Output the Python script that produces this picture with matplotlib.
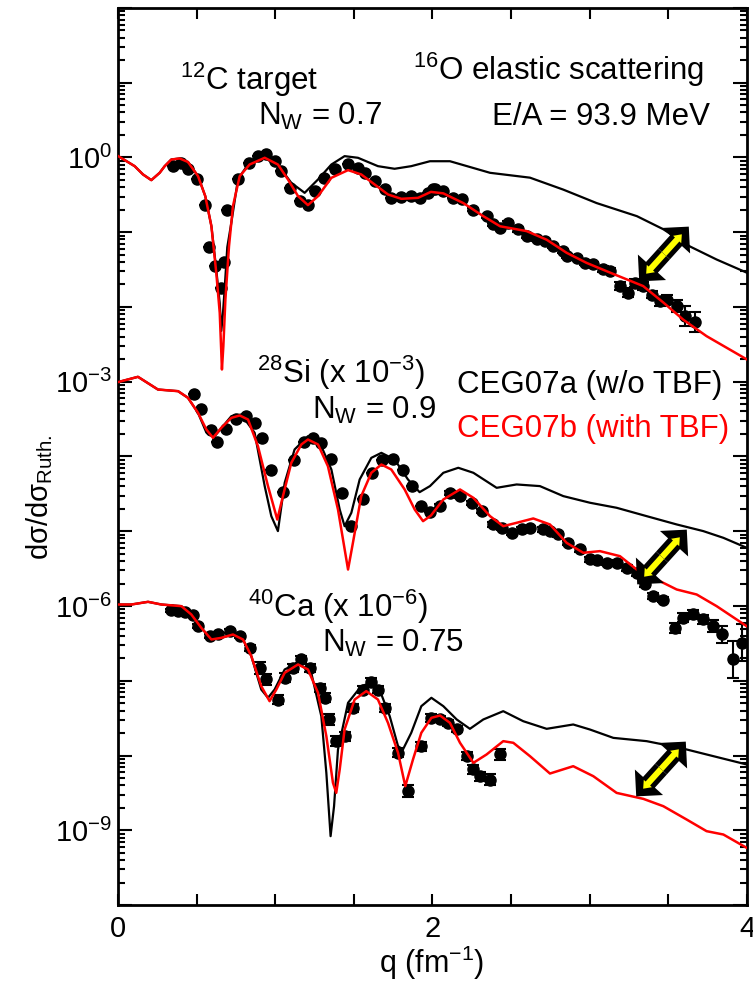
import numpy as np
import matplotlib
matplotlib.use("Agg")
import matplotlib.pyplot as plt
from matplotlib.ticker import FixedLocator, MultipleLocator, LogLocator, NullFormatter, FuncFormatter
from matplotlib.patches import FancyArrow

plt.rcParams['font.family'] = ['Liberation Sans', 'DejaVu Sans']
plt.rcParams['mathtext.fontset'] = 'custom'
plt.rcParams['mathtext.rm'] = 'Liberation Sans'
plt.rcParams['mathtext.it'] = 'Liberation Sans:italic'
plt.rcParams['mathtext.bf'] = 'Liberation Sans:bold'

# ---- data (log10 of dsigma/dsigma_Ruth, Si scaled 1e-3, Ca scaled 1e-6) ----
# 12C, CEG07a (w/o TBF)
c_q_a = [0.0, 0.106, 0.159, 0.212, 0.265, 0.297, 0.339, 0.392, 0.445, 0.509,
         0.555, 0.594, 0.625, 0.647, 0.657, 0.667, 0.678, 0.695, 0.721, 0.763,
         0.827, 0.933, 1.039, 1.102, 1.187, 1.272, 1.357, 1.441, 1.526, 1.653,
         1.759, 1.865, 1.984, 2.111, 2.366, 2.62, 2.832, 3.044, 3.30, 3.468,
         3.637, 3.807, 3.998]
c_lg_a = [0.02, -0.116, -0.227, -0.303, -0.205, -0.116, -0.027, -0.013, -0.06, -0.25,
          -0.517, -0.918, -1.50, -1.95, -2.32, -2.1, -1.766, -1.2, -0.87, -0.29,
          -0.094, 0.0, -0.16, -0.339, -0.473, -0.294, -0.094, 0.018, -0.004, -0.116,
          -0.151, -0.116, -0.05, -0.05, -0.205, -0.27, -0.43, -0.61, -0.785, -0.96,
          -1.19, -1.365, -1.54]
# 12C, CEG07b (with TBF)
c_q_b = [0.0, 0.106, 0.159, 0.212, 0.265, 0.297, 0.339, 0.392, 0.445, 0.509,
         0.555, 0.594, 0.625, 0.647, 0.657, 0.661, 0.670, 0.683, 0.706, 0.731,
         0.774, 0.837, 0.933, 1.017, 1.081, 1.145, 1.208, 1.272, 1.357, 1.463,
         1.547, 1.632, 1.717, 1.802, 1.908, 1.99, 2.069, 2.196, 2.323, 2.43,
         2.599, 2.726, 2.853, 2.98, 3.129, 3.34, 3.468, 3.595, 3.743, 3.998]
c_lg_b = [0.02, -0.116, -0.227, -0.303, -0.205, -0.116, -0.027, -0.013, -0.06, -0.25,
          -0.517, -0.918, -1.543, -2.078, -2.613, -2.836, -2.524, -1.90, -1.186, -0.651,
          -0.25, -0.094, -0.004, -0.094, -0.294, -0.517, -0.637, -0.517, -0.272, -0.169,
          -0.227, -0.361, -0.495, -0.553, -0.540, -0.46, -0.48, -0.61, -0.785, -0.92,
          -0.985, -1.10, -1.275, -1.41, -1.54, -1.72, -1.94, -2.17, -2.39, -2.70]
# 12C, data
c_q_d = [0.350, 0.403, 0.445, 0.502, 0.555, 0.579, 0.615, 0.657, 0.674, 0.693,
         0.763, 0.831, 0.890, 0.943, 0.996, 1.039, 1.092, 1.155, 1.208, 1.251,
         1.308, 1.378, 1.463, 1.526, 1.569, 1.632, 1.696, 1.738, 1.802, 1.865,
         1.918, 1.971, 2.014, 2.005, 2.069, 2.132, 2.185, 2.260, 2.344, 2.387,
         2.429, 2.482, 2.546, 2.599, 2.662, 2.715, 2.768, 2.832, 2.853, 2.917,
         2.970, 3.023, 3.086, 3.129, 3.192, 3.245, 3.288, 3.341, 3.394, 3.447,
         3.489, 3.553, 3.606, 3.669]
c_lg_d = [-0.116, -0.080, -0.160, -0.294, -0.637, -1.195, -1.445, -1.743, -1.400, -0.696,
          -0.285, -0.071, 0.018, 0.040, -0.049, -0.183, -0.406, -0.584, -0.629, -0.450,
          -0.272, -0.160, -0.093, -0.138, -0.205, -0.317, -0.428, -0.540, -0.526, -0.517,
          -0.540, -0.473, -0.428, -0.428, -0.450, -0.540, -0.562, -0.696, -0.785, -0.896,
          -0.941, -0.874, -0.963, -1.052, -1.088, -1.119, -1.186, -1.253, -1.320, -1.342,
          -1.409, -1.431, -1.498, -1.520, -1.721, -1.810, -1.677, -1.721, -1.833, -1.922,
          -1.900, -1.989, -2.123, -2.203]
c_err = [0.0] * 33 + [0.0, 0.0, 0.0, 0.0, 0.02, 0.02, 0.02, 0.02, 0.02, 0.03,
                      0.03, 0.03, 0.03, 0.03, 0.03, 0.03, 0.03, 0.03, 0.03, 0.04,
                      0.04, 0.05, 0.06, 0.05, 0.05, 0.05, 0.06, 0.06, 0.08, 0.13, 0.13]

# 28Si (x 1e-3)
si_q_a = [0, 0.127, 0.254, 0.382, 0.445, 0.509, 0.562, 0.615, 0.721, 0.784,
          0.869, 0.933, 0.975, 1.017, 1.06, 1.123, 1.208, 1.293, 1.357, 1.41,
          1.441, 1.484, 1.537, 1.611, 1.675, 1.759, 1.844, 1.918, 1.984, 2.069,
          2.164, 2.26, 2.408, 2.535, 2.683, 2.832, 3.002, 3.171, 3.362, 3.553,
          3.722, 3.85, 3.998]
si_lg_a = [-3.005, -2.934, -3.104, -3.126, -3.215, -3.416, -3.68, -3.728, -3.46, -3.438,
           -3.683, -4.397, -4.798, -4.998, -4.352, -3.906, -3.728, -3.862, -4.174, -4.709,
           -4.932, -4.753, -4.307, -4.018, -3.951, -4.04, -4.307, -4.477, -4.396, -4.218,
           -4.151, -4.218, -4.419, -4.374, -4.396, -4.53, -4.619, -4.686, -4.798, -4.909,
           -4.998, -5.088, -5.221]
si_q_b = [0, 0.127, 0.254, 0.382, 0.445, 0.509, 0.562, 0.604, 0.657, 0.721,
          0.774, 0.827, 0.890, 0.954, 1.013, 1.049, 1.102, 1.166, 1.208, 1.272,
          1.335, 1.399, 1.463, 1.494, 1.547, 1.611, 1.675, 1.738, 1.823, 1.887,
          1.940, 1.99, 2.069, 2.175, 2.26, 2.366, 2.45, 2.535, 2.641, 2.747,
          2.853, 2.959, 3.065, 3.192, 3.298, 3.425, 3.553, 3.68, 3.807, 3.998]
si_lg_b = [-3.005, -2.934, -3.104, -3.126, -3.215, -3.416, -3.639, -3.75, -3.616, -3.483,
           -3.451, -3.505, -3.862, -4.397, -4.843, -4.53, -4.085, -3.839, -3.773, -3.839,
           -4.13, -4.709, -5.512, -5.155, -4.53, -4.218, -4.107, -4.174, -4.441, -4.709,
           -4.865, -4.79, -4.575, -4.441, -4.553, -4.798, -4.932, -4.887, -4.829, -4.909,
           -5.155, -5.288, -5.266, -5.333, -5.511, -5.645, -5.779, -5.846, -6.002, -6.27]
si_q_d = [0.483, 0.530, 0.594, 0.632, 0.689, 0.753, 0.816, 0.869, 0.916, 0.975,
          1.049, 1.119, 1.183, 1.240, 1.293, 1.357, 1.424, 1.480, 1.558, 1.615,
          1.679, 1.749, 1.812, 1.870, 1.929, 1.982,
          2.048, 2.111, 2.175, 2.249, 2.313, 2.387, 2.440, 2.503, 2.567, 2.620,
          2.705, 2.747, 2.800, 2.864, 2.938, 3.001, 3.044, 3.107, 3.171, 3.235,
          3.298, 3.351, 3.404, 3.468, 3.542, 3.595, 3.659, 3.722, 3.786, 3.839,
          3.913, 3.966]
si_lg_d = [-3.170, -3.362, -3.639, -3.804, -3.630, -3.505, -3.460, -3.550, -3.750, -4.174,
           -4.477, -4.049, -3.808, -3.750, -3.817, -4.040, -4.486, -4.932, -4.575, -4.227,
           -4.049, -4.031, -4.174, -4.388, -4.664, -4.745,
           -4.664, -4.486, -4.530, -4.619, -4.731, -4.909, -4.954, -5.021, -4.976, -4.954,
           -4.976, -4.998, -5.043, -5.154, -5.244, -5.377, -5.387, -5.422, -5.422, -5.489,
           -5.556, -5.712, -5.868, -5.913, -6.292, -6.158, -6.113, -6.180, -6.269, -6.381,
           -6.715, -6.492]
si_err = [0.0] * 26 + [0.03] * 18 + [0.04] * 6 + [0.07, 0.06, 0.06, 0.06, 0.08, 0.12, 0.25, 0.25]

# 40Ca (x 1e-6)
ca_q_a = [0, 0.085, 0.191, 0.276, 0.403, 0.466, 0.53, 0.594, 0.657, 0.731,
          0.795, 0.848, 0.911, 0.954, 0.996, 1.06, 1.145, 1.229, 1.293, 1.325,
          1.352, 1.374, 1.399, 1.463, 1.547, 1.611, 1.675, 1.728, 1.781, 1.812,
          1.865, 1.929, 1.993, 2.069, 2.154, 2.238, 2.323, 2.45, 2.577, 2.726,
          2.895, 3.001, 3.15, 3.362, 3.574, 3.743, 3.998]
ca_lg_a = [-5.98, -5.98, -5.944, -5.98, -6.002, -6.113, -6.292, -6.448, -6.426, -6.381,
           -6.448, -6.671, -7.117, -7.228, -7.117, -6.849, -6.76, -6.894, -7.474, -8.232,
           -9.079, -8.678, -7.92, -7.295, -7.072, -7.028, -7.184, -7.474, -7.875, -7.92,
           -7.696, -7.34, -7.228, -7.34, -7.518, -7.643, -7.518, -7.407, -7.541, -7.643,
           -7.585, -7.652, -7.764, -7.808, -7.897, -7.986, -8.12]
ca_q_b = [0, 0.085, 0.191, 0.276, 0.403, 0.466, 0.53, 0.594, 0.657, 0.731,
          0.795, 0.848, 0.911, 0.964, 1.007, 1.06, 1.145, 1.208, 1.272, 1.325,
          1.367, 1.388, 1.41, 1.441, 1.505, 1.579, 1.653, 1.717, 1.781, 1.827,
          1.876, 1.929, 1.993, 2.048, 2.111, 2.175, 2.26, 2.344, 2.45, 2.514,
          2.62, 2.747, 2.895, 3.023, 3.171, 3.341, 3.468, 3.616, 3.743, 3.85, 3.998]
ca_lg_b = [-5.98, -5.98, -5.944, -5.98, -6.002, -6.113, -6.292, -6.448, -6.426, -6.381,
           -6.448, -6.671, -7.072, -7.273, -7.117, -6.894, -6.782, -6.849, -7.161, -7.741,
           -8.365, -8.499, -8.187, -7.652, -7.251, -7.139, -7.251, -7.563, -7.964, -8.41,
           -8.053, -7.696, -7.496, -7.465, -7.563, -7.830, -8.098, -7.986, -7.808, -7.83,
           -8.009, -8.241, -8.143, -8.277, -8.5, -8.58, -8.678, -8.856, -9.012, -9.057, -9.235]
ca_q_d = [0.339, 0.382, 0.424, 0.477, 0.509, 0.583, 0.636, 0.710, 0.774, 0.837,
          0.901, 0.943, 1.017, 1.060, 1.113, 1.162, 1.219, 1.282, 1.319, 1.340,
          1.388, 1.441, 1.494, 1.558, 1.611, 1.653, 1.696, 1.781, 1.844, 1.929,
          1.993, 2.048, 2.101, 2.154, 2.217, 2.260, 2.302, 2.366, 2.429]
ca_lg_d = [-6.055, -6.069, -6.082, -6.127, -6.270, -6.403, -6.381, -6.336, -6.403, -6.559,
           -6.827, -6.983, -7.251, -6.961, -6.827, -6.715, -6.827, -7.095, -7.228, -7.518,
           -7.808, -7.741, -7.362, -7.117, -7.019, -7.117, -7.362, -7.964, -8.477, -7.875,
           -7.496, -7.518, -7.563, -7.643, -8.009, -8.187, -8.276, -8.321, -7.986]
ca_err = [0.02, 0.02, 0.02, 0.02, 0.03, 0.03, 0.03, 0.03, 0.03, 0.04,
          0.08, 0.08, 0.06, 0.06, 0.05, 0.05, 0.05, 0.05, 0.06, 0.07,
          0.07, 0.06, 0.05, 0.05, 0.05, 0.05, 0.05, 0.06, 0.08, 0.06,
          0.05, 0.04, 0.04, 0.04, 0.05, 0.06, 0.06, 0.07, 0.07]

fig = plt.figure(figsize=(7.53, 9.85), dpi=100)
ax = fig.add_axes([0.1567, 0.0812, 0.8353, 0.9107])

sets = [(c_q_a, c_lg_a, c_q_b, c_lg_b, c_q_d, c_lg_d, c_err),
        (si_q_a, si_lg_a, si_q_b, si_lg_b, si_q_d, si_lg_d, si_err),
        (ca_q_a, ca_lg_a, ca_q_b, ca_lg_b, ca_q_d, ca_lg_d, ca_err)]
for qa, la, qb, lb, qd, ld, er in sets:
    ax.plot(qa, 10 ** np.array(la), color='black', lw=1.6, zorder=3)
    ax.plot(qb, 10 ** np.array(lb), color='red', lw=1.8, zorder=4)
    y = 10 ** np.array(ld)
    e = np.array(er)
    yerr = [y - y * 10 ** (-e), y * 10 ** e - y]
    ax.errorbar(qd, y, yerr=yerr, fmt='o', ms=8, color='black', ecolor='black',
                elinewidth=1.5, capsize=4.5, capthick=1.5, zorder=2)

ax.set_yscale('log')
ax.set_xlim(0, 4)
ax.set_ylim(1e-10, 1e2)

ax.xaxis.set_major_locator(FixedLocator([0, 2, 4]))
ax.xaxis.set_minor_locator(MultipleLocator(0.5))
ax.yaxis.set_major_locator(FixedLocator([10.0 ** k for k in range(-10, 3)]))
ax.yaxis.set_minor_locator(LogLocator(base=10, subs=np.arange(2, 10), numticks=30))
ax.yaxis.set_minor_formatter(NullFormatter())


def ylab(v, pos):
    k = int(round(np.log10(v)))
    if k in (0, -3, -6, -9):
        return '$10^{%d}$' % k
    return ''


ax.yaxis.set_major_formatter(FuncFormatter(ylab))
ax.xaxis.set_major_formatter(FuncFormatter(lambda v, p: '%d' % v))
ax.tick_params(which='both', direction='in', top=True, right=True, width=1.5, labelsize=21)
ax.tick_params(axis='x', which='both', length=8, pad=7)
ax.tick_params(axis='y', which='major', length=10, pad=4)
ax.tick_params(axis='y', which='minor', length=5)
for s in ax.spines.values():
    s.set_linewidth(2)

fig.text(40 / 753, 1 - 497 / 985, r'dσ/dσ$_{\mathrm{Ruth.}}$', rotation=90,
         ha='center', va='center', fontsize=21)
fig.text(432 / 753, 1 - 963 / 985, r'q (fm$^{-1}$)', ha='center', va='center', fontsize=22)

fs = 22.5
fig.text(0.239, 0.9086, r'$^{12}$C target', fontsize=fs, va='baseline')
fig.text(0.3426, 0.8731, r'N$_{\mathrm{W}}$ = 0.7', fontsize=fs, va='baseline')
fig.text(0.5485, 0.9188, r'$^{16}$O elastic scattering', fontsize=fs, va='baseline')
fig.text(0.6534, 0.8731, 'E/A = 93.9 MeV', fontsize=fs, va='baseline')
fig.text(0.3413, 0.6112, r'$^{28}$Si (x 10$^{-3}$)', fontsize=fs, va='baseline')
fig.text(0.4143, 0.5746, r'N$_{\mathrm{W}}$ = 0.9', fontsize=fs, va='baseline')
fig.text(0.6069, 0.6010, 'CEG07a (w/o TBF)', fontsize=fs, va='baseline', color='black')
fig.text(0.6069, 0.5563, 'CEG07b (with TBF)', fontsize=fs, va='baseline', color='red')
fig.text(0.3293, 0.3736, r'$^{40}$Ca (x 10$^{-6}$)', fontsize=fs, va='baseline')
fig.text(0.4276, 0.3381, r'N$_{\mathrm{W}}$ = 0.75', fontsize=fs, va='baseline')

# double arrows, drawn in pixel space on an overlay
ov = fig.add_axes([0, 0, 1, 1], zorder=10)
ov.set_xlim(0, 753)
ov.set_ylim(985, 0)
ov.axis('off')
ov.patch.set_alpha(0)
for cx, cy in [(664, 254), (662, 557), (661, 769)]:
    ux, uy = 0.67, -0.74
    L = 37
    for sgn in (1, -1):
        ov.add_patch(FancyArrow(cx, cy, sgn * ux * L, sgn * uy * L, width=16, head_width=38,
                                head_length=19, length_includes_head=True,
                                color='black', lw=0))
        ov.add_patch(FancyArrow(cx, cy, sgn * ux * L * 0.72, sgn * uy * L * 0.72, width=6,
                                head_width=11, head_length=7, length_includes_head=True,
                                color='#ffff00', lw=0))

fig.savefig('out.png', dpi=100)
